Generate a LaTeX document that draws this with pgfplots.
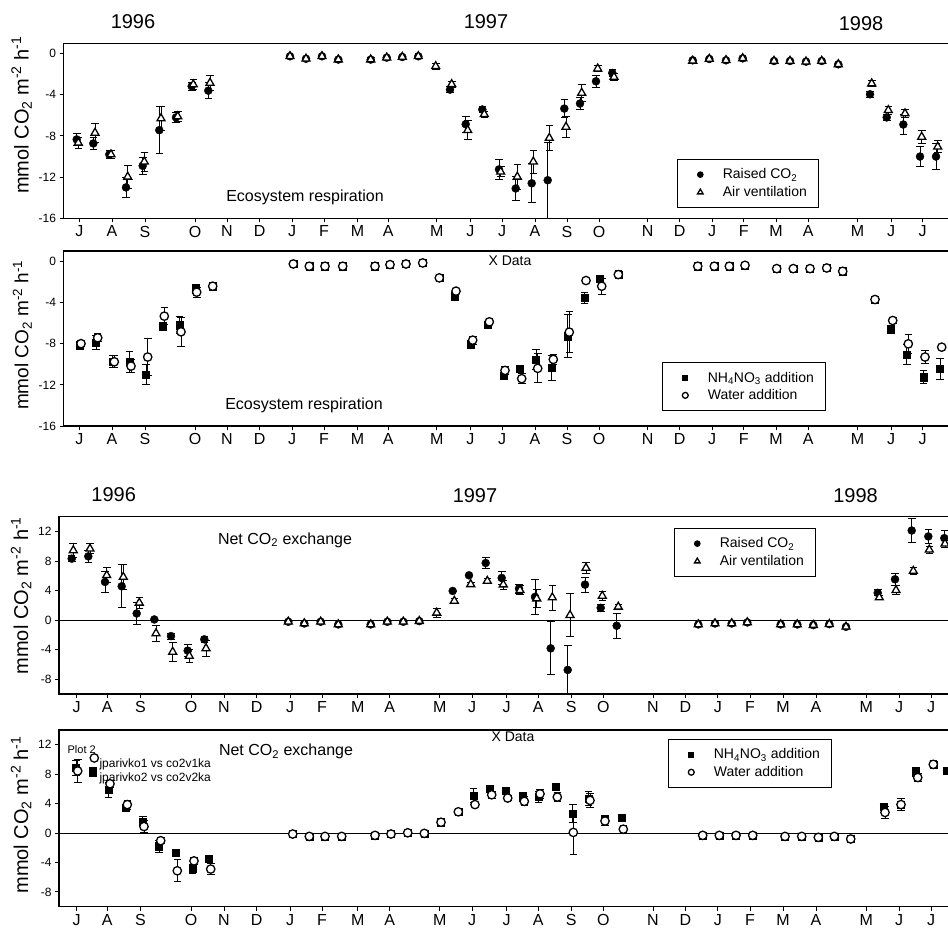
\documentclass[border=0pt]{standalone}
\usepackage{pgfplots}
\pgfplotsset{compat=1.18}
\usepackage{pgfplotstable}
\usepackage{fontspec}
\setmainfont{Liberation Sans}
\newcommand{\fs}[1]{\fontsize{#1}{#1}\selectfont}
\pgfplotstableread{
x y e
76.7 -8.34 0.6
93.3 -8.73 0.6
109.3 -9.8 0.4
126 -13.0 1.0
142.7 -10.9 0.8
159.3 -7.44 2.3
176 -6.2 0.5
191.7 -3.17 0.4
208.3 -3.6 0.8
290 -0.26 0
306 -0.5 0
322 -0.26 0
338.3 -0.58 0
370.7 -0.58 0.2
386.7 -0.39 0
402.3 -0.33 0
418.3 -0.26 0
450 -3.5 0.3
465.7 -6.86 0.8
482.3 -5.43 0.3
499 -11.25 1.0
515.7 -13.1 1.2
531.7 -12.6 1.9
547.7 -12.3 3.7
564.3 -5.34 0.9
580 -4.85 0.6
596 -2.69 0.6
612.3 -1.88 0.3
692.7 -0.65 0
709.3 -0.52 0
726 -0.65 0
742.7 -0.46 0
774 -0.72 0
790 -0.72 0
806 -0.78 0
821.7 -0.72 0
838.3 -1.04 0
870 -3.95 0.3
886.7 -6.2 0.3
903.3 -6.89 1.0
920 -10.0 1.0
936 -10.0 1.3
}\pAc
\pgfplotstableread{
x y e
78.3 -8.67 0.5
95 -7.7 0.9
111 -9.8 0.4
127.7 -11.97 1.1
144.3 -10.5 0.9
161 -6.3 1.2
177.7 -6.1 0.5
193.3 -3.0 0.5
210 -2.85 0.75
290 -0.26 0
306 -0.5 0
322 -0.26 0
338.3 -0.58 0
370.7 -0.58 0
386.7 -0.39 0
402.3 -0.33 0
418.3 -0.26 0
435.7 -1.23 0.3
451.7 -2.98 0.3
467.7 -7.44 0.9
484.3 -5.89 0.3
500.7 -11.48 0.5
517.3 -11.97 1.2
533.3 -10.5 1.1
549.3 -8.2 1.2
566 -7.12 1.0
581.7 -3.82 0.8
597.7 -1.46 0.3
614 -2.27 0.3
692.7 -0.7 0
709.3 -0.52 0
726 -0.65 0
742.7 -0.46 0
774 -0.72 0
790 -0.72 0
806 -0.78 0
821.7 -0.72 0
838.3 -1.04 0
871.7 -2.91 0.3
888.3 -5.5 0.4
905 -5.82 0.4
921.7 -8.09 0.6
937.7 -9.05 0.6
}\pAt
\pgfplotstableread{
x y e
79.3 -8.15 0.3
96 -7.9 0.7
112.7 -9.76 0.6
129.3 -9.76 1.0
146 -11.0 1.0
162.7 -6.3 0.2
179.3 -6.2 0.8
196 -2.68 0.4
212.7 -2.42 0.2
293.3 -0.26 0
309.3 -0.48 0
325 -0.48 0
342.7 -0.48 0
375 -0.48 0
390 -0.32 0
406 -0.26 0
422.7 -0.16 0
439.3 -1.61 0
454.3 -3.39 0.3
471 -8.08 0.4
487.7 -6.14 0.3
503.3 -11.09 0.3
520 -10.44 0.3
536 -9.53 1.0
551.7 -10.34 1.2
567.7 -7.27 2.1
584.3 -3.55 0.5
600 -1.7 0.3
618.3 -1.29 0.3
697.7 -0.48 0
714.3 -0.48 0
729.3 -0.48 0
745 -0.39 0
776.7 -0.71 0
793.3 -0.71 0
810 -0.71 0
826.7 -0.65 0
842.7 -0.97 0
875 -3.71 0
891 -6.62 0.4
906.7 -9.05 1.0
923.3 -11.25 0.6
940 -10.44 1.0
}\pBs
\pgfplotstableread{
x y e
81 -8.0 0.3
97.7 -7.43 0.4
114.3 -9.76 0.6
131 -10.18 0.6
147.7 -9.3 1.8
164.3 -5.33 0.8
181 -6.85 1.4
196.7 -3.0 0.5
212.7 -2.42 0.2
293.3 -0.26 0
309.3 -0.48 0
325 -0.48 0
342.7 -0.48 0
375 -0.48 0
390 -0.32 0
406 -0.26 0
422.7 -0.16 0
439.3 -1.61 0
456 -2.9 0.2
472.7 -7.66 0.4
489.3 -5.88 0.3
505 -10.6 0.4
521.7 -11.4 0.5
537.7 -10.4 1.4
553.3 -9.53 0.5
569.3 -6.88 2.0
586 -1.87 0
601.7 -2.42 0.8
618.3 -1.29 0.4
697.7 -0.48 0
714.3 -0.48 0
729.3 -0.48 0
745 -0.39 0
776.7 -0.71 0
793.3 -0.71 0
810 -0.71 0
826.7 -0.65 0
842.7 -0.97 0
875 -3.71 0
892.7 -5.75 0.3
908.3 -8.02 0.9
925 -9.3 0.6
941.7 -8.34 0
}\pBc
\pgfplotstableread{
x y e
71.7 8.32 0.4
88.3 8.63 0.8
105 5.17 1.4
121.7 4.58 2.9
136.7 0.9 1.5
154.3 0.09 0
171 -2.16 0.4
187.7 -4.13 0.8
204.3 -2.6 0.4
288.3 -0.22 0
304.3 -0.45 0
320.7 -0.22 0
338.3 -0.58 0
370.7 -0.58 0
387.3 -0.22 0
403.3 -0.22 0
419.3 -0.13 0
452.7 3.95 0
469 6.07 0
485.7 7.73 0.8
501.7 5.71 0.9
519 4.27 0.6
535 3.15 2.4
550.7 -3.82 3.6
567.7 -6.74 3.3
585 4.81 1.0
600.7 1.66 0.5
616.7 -0.76 1.7
698.3 -0.58 0
715 -0.45 0
731.7 -0.45 0
747.3 -0.31 0
780.7 -0.58 0
797.3 -0.58 0
813.3 -0.67 0
829.3 -0.54 0
846 -0.9 0
877.7 3.69 0.4
895 5.53 0.8
911.7 12.13 1.6
928.3 11.33 0.9
944.3 11.1 1.0
}\pCc
\pgfplotstableread{
x y e
73.3 9.44 0.9
90 9.66 0.7
106.7 6.07 1.0
123.3 5.84 1.7
139.3 2.34 0.7
156 -1.8 1.1
172.7 -4.3 1.3
189.3 -4.85 0.9
206 -3.82 1.1
288.3 -0.22 0
304.3 -0.45 0
320.7 -0.22 0
338.3 -0.58 0
370.7 -0.58 0
387.3 -0.22 0
403.3 -0.22 0
419.3 -0.13 0
436.7 0.99 0.6
454.3 2.6 0.3
470.7 4.85 0.3
487.3 5.3 0.3
503.3 4.81 0.6
520 4.04 0.6
536.7 2.92 1.2
552.3 3.06 1.7
570 0.67 2.9
586 7.06 0.7
602.3 3.28 0.6
618.3 1.8 0.3
698.3 -0.58 0
715 -0.45 0
731.7 -0.45 0
747.3 -0.31 0
780.7 -0.58 0
797.3 -0.58 0
813.3 -0.67 0
829.3 -0.54 0
846 -0.9 0
879.3 3.06 0.3
896 4.04 0.6
913.3 6.65 0.5
929.3 9.53 0.5
945 10.34 0.5
}\pCt
\pgfplotstableread{
x y e
76 8.88 1.0
92.7 8.35 0.6
108.3 5.9 1.0
126 3.47 0.4
142.7 1.56 0.7
159 -1.78 0.8
175.7 -2.67 0.4
192.3 -4.89 0.6
209 -3.43 0.3
292.7 -0.13 0
309.3 -0.45 0
325 -0.45 0
341.7 -0.45 0
375 -0.31 0
391 -0.13 0
407.7 0.04 0
424.3 -0.04 0
441 1.47 0
458.3 2.89 0
473.3 5.11 1.0
490 6.0 0.5
506 5.78 0.3
522.7 4.89 0.6
538.3 4.89 0.7
555.7 6.35 0
572.7 2.67 1.2
588.3 4.7 1.0
605 1.9 0.5
621.7 2.08 0
702.7 -0.31 0
719.3 -0.31 0
736 -0.31 0
752.7 -0.31 0
785 -0.45 0
801.7 -0.45 0
818.3 -0.58 0
834.3 -0.45 0
850.7 -0.8 0
883.3 3.55 0.5
901 3.87 0.8
916 8.31 0.6
933.3 9.33 0.5
946.7 8.44 0.5
}\pDs
\pgfplotstableread{
x y e
77.7 8.44 1.6
94.3 10.2 0
110 6.7 0.5
127.3 3.87 0.6
144 0.89 0.8
160.7 -1.03 0.4
177.3 -5.12 1.5
194 -3.78 0.5
210.7 -4.89 0.7
292.7 -0.13 0
309.3 -0.45 0
325 -0.45 0
341.7 -0.45 0
375 -0.31 0
391 -0.13 0
407.7 0.04 0
424.3 -0.04 0
441 1.47 0
458.3 2.89 0
475 3.87 0.3
491.7 5.2 0.5
507.7 4.76 0.3
524.3 4.31 0.6
540 5.33 0.6
557.3 4.89 0.6
573.3 0.09 3.0
590 4.44 1.0
605 1.64 0.6
623.3 0.53 0.5
702.7 -0.31 0
719.3 -0.31 0
736 -0.31 0
752.7 -0.31 0
785 -0.45 0
801.7 -0.45 0
818.3 -0.58 0
834.3 -0.45 0
850.7 -0.8 0
885 2.8 0.8
901 3.87 0.8
917.7 7.55 0.5
933.3 9.33 0.5
}\pDc
\pgfplotsset{
  panel/.style={
    scale only axis, xmax=950,
    axis line style={line width=1.2pt},
    tick align=outside, xtick pos=bottom, ytick pos=left,
    major tick length=4pt, tick style={line width=1pt, black},
    xticklabels={J,A,S,O,N,D,J,F,M,A,M,J,J,A,S,O,N,D,J,F,M,A,M,J,J},
    x tick label style={font=\fs{16}},
    y tick label style={font=\fs{12}},
    /pgf/number format/assume math mode=true,
    ylabel={mmol CO\textsubscript{2} m\textsuperscript{-2} h\textsuperscript{-1}},
    legend cell align=left,
    legend style={draw=black, line width=1pt, inner xsep=10pt, inner ysep=7pt,
      font=\fs{14}, row sep=2pt, anchor=north west,
      /tikz/every odd column/.append style={column sep=8pt}},
    legend image code/.code={\path (0pt,0pt) (24pt,0pt);
      \draw[##1,/tikz/every mark/.append style={scale=0.7}] plot coordinates {(12pt,0pt)};},
  },
  toppanel/.style={panel, xmin=63.5, width=886.5pt, height=175pt, ymin=-16, ymax=1,
    ytick={-16,-12,-8,-4,0},
    xtick={79.3,112,145,195,227,259.7,292,324,357.5,388.3,436.7,470.3,502,535,567,599,647.7,679.7,712,743.8,776,808.3,857.5,891,922.5}},
  botpanel/.style={panel, xmin=59, width=891pt, ymin=-10, ymax=14,
    ytick={-8,-4,0,4,8,12},
    xtick={76.7,107.3,140.5,191,224,256.7,290,322,357.8,389.7,439.7,472.2,506.7,538.3,571.2,603.3,653,685.5,717.8,750,783,816,866.3,899.2,931}},
  bars/.style={only marks, mark=none, forget plot, black,
    error bars/.cd, y dir=both, y explicit,
    error bar style={line width=0.9pt, black},
    error mark options={rotate=90, line width=0.9pt, mark size=3.8pt, black}},
  circ/.style={only marks, mark=*, mark size=4pt, black},
  tri/.style={only marks, mark=triangle*, mark size=4.6pt, black, mark options={fill=white, draw=black, line width=1.3pt}},
  sq/.style={only marks, mark=square*, mark size=3.6pt, black},
  ocirc/.style={only marks, mark=*, mark size=4.2pt, black, mark options={fill=white, draw=black, line width=1.3pt}},
}
\begin{document}
\begin{tikzpicture}[x=1pt,y=1pt]
\useasboundingbox (0pt,0pt) rectangle (948pt,-932pt);
% Panel 1
\begin{axis}[toppanel, at={(63.5pt,-43.3pt)}, anchor=north west,
  ylabel style={font=\fs{20}, at={(ticklabel cs:0.59)}},
  legend style={at={(axis cs:677.3,-10.27)}}]
\addplot[bars] table[x=x,y=y,y error=e] {\pAc};
\addplot[bars] table[x=x,y=y,y error=e] {\pAt};
\addplot[circ] table[x=x,y=y] {\pAc};
\addplot[tri] table[x=x,y=y] {\pAt};
\legend{Raised CO\textsubscript{2},Air ventilation}
\node[font=\fs{16}] at (axis cs:305,-13.94) {Ecosystem respiration};
\end{axis}
% Panel 2
\begin{axis}[toppanel, at={(63.5pt,-251pt)}, anchor=north west,
  ylabel style={font=\fs{19}, at={(ticklabel cs:0.52)}},
  legend style={at={(axis cs:662.3,-9.82)}}]
\addplot[bars] table[x=x,y=y,y error=e] {\pBs};
\addplot[bars] table[x=x,y=y,y error=e] {\pBc};
\addplot[sq] table[x=x,y=y] {\pBs};
\addplot[ocirc] table[x=x,y=y] {\pBc};
\legend{NH\textsubscript{4}NO\textsubscript{3} addition,Water addition}
\node[font=\fs{16}] at (axis cs:304,-13.97) {Ecosystem respiration};
\node[font=\fs{14}] at (axis cs:510,0.03) {X Data};
\end{axis}
% Panel 3
\begin{axis}[botpanel, height=177.3pt, at={(59pt,-516.7pt)}, anchor=north west,
  ylabel style={font=\fs{20}, at={(ticklabel cs:0.555)}},
  legend style={at={(axis cs:674.3,12.43)}}]
\addplot[bars] table[x=x,y=y,y error=e] {\pCc};
\addplot[bars] table[x=x,y=y,y error=e] {\pCt};
\addplot[circ] table[x=x,y=y] {\pCc};
\addplot[tri] table[x=x,y=y] {\pCt};
\legend{Raised CO\textsubscript{2},Air ventilation}
\draw[line width=1pt] (axis cs:59,0) -- (axis cs:950,0);
\node[font=\fs{16}] at (axis cs:285,10.85) {Net CO\textsubscript{2} exchange};
\end{axis}
% Panel 4
\begin{axis}[botpanel, height=176.7pt, at={(59pt,-730pt)}, anchor=north west,
  ylabel style={font=\fs{20}, at={(ticklabel cs:0.52)}},
  legend style={at={(axis cs:668.3,12.74)}}]
\addplot[bars] table[x=x,y=y,y error=e] {\pDs};
\addplot[bars] table[x=x,y=y,y error=e] {\pDc};
\addplot[sq] table[x=x,y=y] {\pDs};
\addplot[ocirc] table[x=x,y=y] {\pDc};
\legend{NH\textsubscript{4}NO\textsubscript{3} addition,Water addition}
\draw[line width=1pt] (axis cs:59,0) -- (axis cs:950,0);
\node[font=\fs{16}] at (axis cs:286,11.05) {Net CO\textsubscript{2} exchange};
\node[font=\fs{14}] at (axis cs:513,13.1) {X Data};
\node[font=\fs{11}] at (axis cs:81.7,11.4) {Plot 2};
\node[font=\fs{12}, anchor=west, inner sep=0pt] at (axis cs:99.3,9.34) {jparivko1 vs co2v1ka};
\node[font=\fs{12}, anchor=west, inner sep=0pt] at (axis cs:99.3,7.44) {jparivko2 vs co2v2ka};
\end{axis}
% year labels
\node[font=\fs{20}] at (133pt,-21.7pt) {1996};
\node[font=\fs{20}] at (486pt,-21.7pt) {1997};
\node[font=\fs{20}] at (861pt,-23.3pt) {1998};
\node[font=\fs{20}] at (113.7pt,-495pt) {1996};
\node[font=\fs{20}] at (475pt,-496pt) {1997};
\node[font=\fs{20}] at (855.5pt,-496pt) {1998};
\end{tikzpicture}
\end{document}
